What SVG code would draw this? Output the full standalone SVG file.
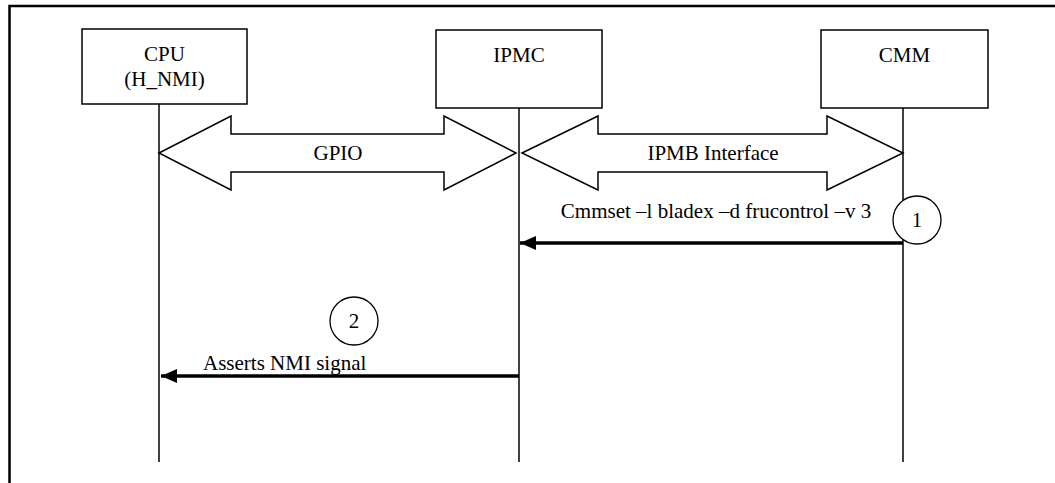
<svg xmlns="http://www.w3.org/2000/svg" width="1055" height="483" viewBox="0 0 1055 483">
<style>
.box{fill:#fff;stroke:#000;stroke-width:1.5}
.life{stroke:#000;stroke-width:1.5;fill:none}
.big{fill:#fff;stroke:#000;stroke-width:1.5;stroke-linejoin:miter}
.msg{stroke:#000;stroke-width:3.5;fill:none}
text{font-family:"Liberation Serif","Times New Roman",Times,serif;font-size:21px;fill:#000;text-anchor:middle}
.circ{fill:#fff;stroke:#000;stroke-width:1.3}
</style>
<defs>
<marker id="ah" markerUnits="userSpaceOnUse" markerWidth="18" markerHeight="16" refX="17" refY="8" orient="auto">
<path d="M1,1 L17,8 L1,15 Z" fill="#000"/>
</marker>
</defs>
<rect width="1055" height="483" fill="#fff"/>
<path d="M9.5,483 V6 H1055" fill="none" stroke="#000" stroke-width="2.5"/>
<g id="connectors">
<line class="life" x1="159" y1="104" x2="159" y2="462"/>
<line class="life" x1="519" y1="108" x2="519" y2="462"/>
<line class="life" x1="903" y1="108" x2="903" y2="462"/>
<path class="big" d="M159,153 L231,116 L231,134 L444,134 L444,116 L516,153 L444,190 L444,172 L231,172 L231,190 Z"/>
<text x="338" y="160">GPIO</text>
<path class="big" d="M522,153 L598,116 L598,134 L827,134 L827,116 L903,153 L827,190 L827,172 L598,172 L598,190 Z"/>
<text x="713" y="160">IPMB Interface</text>
<line class="msg" x1="903" y1="243" x2="520" y2="243" marker-end="url(#ah)"/>
<text x="716" y="218">Cmmset –l bladex –d frucontrol –v 3</text>
<line class="msg" x1="519" y1="376" x2="161" y2="376" marker-end="url(#ah)"/>
<text x="203" y="370" style="text-anchor:start">Asserts NMI signal</text>
</g>
<g id="cpu">
<rect class="box" x="82" y="29" width="165" height="75"/>
<text x="164.5" y="61">CPU</text>
<text x="164.5" y="86">(H_NMI)</text>
</g>
<g id="ipmc">
<rect class="box" x="436" y="30" width="166" height="78"/>
<text x="519" y="62">IPMC</text>
</g>
<g id="cmm">
<rect class="box" x="821" y="30" width="167" height="78"/>
<text x="904.5" y="62">CMM</text>
</g>
<g id="step1">
<circle class="circ" cx="917" cy="220" r="24"/>
<text x="917" y="227">1</text>
</g>
<g id="step2">
<circle class="circ" cx="354" cy="321" r="24"/>
<text x="354" y="328">2</text>
</g>
</svg>
